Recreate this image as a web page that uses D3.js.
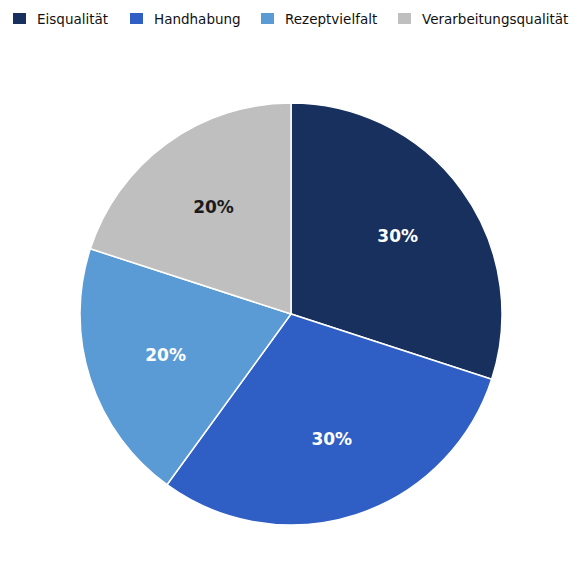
<!DOCTYPE html>
<html>
<head>
<meta charset="utf-8">
<script src="https://cdn.jsdelivr.net/npm/d3@7"></script>
<style>
  body { margin: 0; background: #fff; }
  svg { display: block; font-family: "DejaVu Sans", sans-serif; }
</style>
</head>
<body>
<svg id="chart" width="583" height="587"></svg>
<script>
const categories = ["Eisqualität", "Handhabung", "Rezeptvielfalt", "Verarbeitungsqualität"]
const values = [30, 30, 20, 20]
const colorList = ["#17305e", "#2f5ec4", "#5b9bd5", "#bfbfbf"]
const labelColors = ["#ffffff", "#ffffff", "#ffffff", "#1a1a1a"]

const svg = d3.select("#chart")
const cx = 291, cy = 314, radius = 211

const color = d3.scaleOrdinal().domain(categories).range(colorList)

const pie = d3.pie().sort(null).value((d) => d.value)
const data = categories.map((c, i) => ({ name: c, value: values[i], idx: i }))
const arcs = pie(data)

const arc = d3.arc().innerRadius(0).outerRadius(radius)
const labelArc = d3.arc().innerRadius(radius * 0.625).outerRadius(radius * 0.625)

const g = svg.append("g").attr("transform", `translate(${cx},${cy})`)

g.selectAll("path")
  .data(arcs)
  .enter()
  .append("path")
  .attr("d", arc)
  .attr("fill", (d) => color(d.data.name))
  .attr("stroke", "#fff")
  .attr("stroke-width", 1.5)

const total = d3.sum(values)
g.selectAll("text")
  .data(arcs)
  .enter()
  .append("text")
  .attr("transform", (d) => `translate(${labelArc.centroid(d)})`)
  .attr("text-anchor", "middle")
  .attr("dominant-baseline", "central")
  .attr("font-size", 17)
  .attr("font-weight", "bold")
  .attr("fill", (d) => labelColors[d.data.idx])
  .text((d) => Math.round((d.data.value / total) * 100) + "%")

// legend
const legendX = [13, 130, 261, 398]
const legend = svg.append("g")
const item = legend.selectAll("g")
  .data(categories)
  .enter()
  .append("g")
  .attr("transform", (d, i) => `translate(${legendX[i]},13)`)
item.append("rect")
  .attr("width", 13)
  .attr("height", 11)
  .attr("fill", (d) => color(d))
item.append("text")
  .attr("x", 24)
  .attr("y", 6)
  .attr("dominant-baseline", "central")
  .attr("font-size", 13.5)
  .attr("fill", "#111")
  .text((d) => d)
</script>
</body>
</html>
